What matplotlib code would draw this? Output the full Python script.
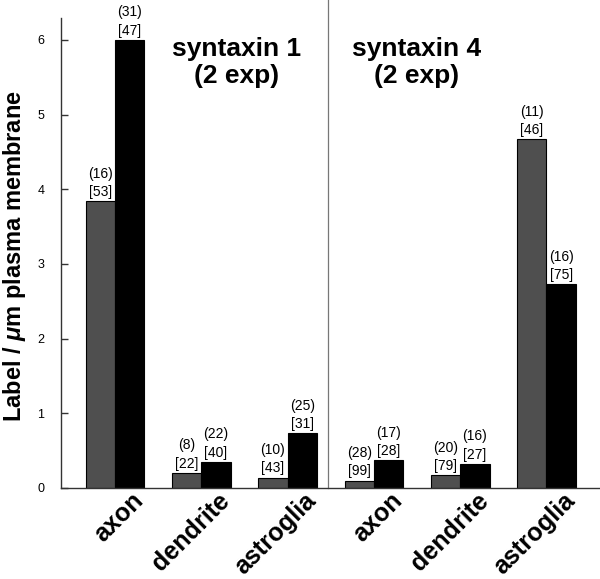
import matplotlib
matplotlib.use("Agg")
import matplotlib.pyplot as plt
import matplotlib.transforms as mtransforms
import numpy as np

plt.rcParams['font.family'] = ['Liberation Sans', 'DejaVu Sans']
plt.rcParams['mathtext.fontset'] = 'custom'
plt.rcParams['mathtext.rm'] = 'Liberation Sans'
plt.rcParams['mathtext.it'] = 'Liberation Sans:italic'
plt.rcParams['mathtext.bf'] = 'Liberation Sans:bold'
plt.rcParams['mathtext.bfit'] = 'Liberation Sans:bold:italic'

# ---- data ----
categories = ["axon", "dendrite", "astroglia", "axon", "dendrite", "astroglia"]
gray_values = [3.84, 0.205, 0.14, 0.10, 0.17, 4.67]
black_values = [6.0, 0.35, 0.73, 0.37, 0.325, 2.73]
gray_counts = [16, 8, 10, 28, 20, 11]
gray_n = [53, 22, 43, 99, 79, 46]
black_counts = [31, 22, 25, 17, 16, 16]
black_n = [47, 40, 31, 28, 27, 75]
panel_titles = ["syntaxin 1\n(2 exp)", "syntaxin 4\n(2 exp)"]
yticks = [0, 1, 2, 3, 4, 5, 6]

W, H = 600, 579
fig = plt.figure(figsize=(W / 100, H / 100), dpi=100)
ax = fig.add_axes([61 / W, 1 - 488 / H, 539 / W, 470 / H])

x = np.arange(len(categories))
bw = 0.34
gray_col = "#4f4f4f"
ax.bar(x - bw / 2, gray_values, bw, color=gray_col, edgecolor="black", linewidth=0.8)
ax.bar(x + bw / 2, black_values, bw, color="black", edgecolor="black", linewidth=0.8)

for xi, v, c, n in zip(x - bw / 2, gray_values, gray_counts, gray_n):
    ax.annotate(f"({c})\n[{n}]", (xi, v), xytext=(0, 1.5), textcoords="offset points",
                ha="center", va="bottom", fontsize=10, linespacing=1.4)
for xi, v, c, n in zip(x + bw / 2, black_values, black_counts, black_n):
    ax.annotate(f"({c})\n[{n}]", (xi, v), xytext=(0, 1.5), textcoords="offset points",
                ha="center", va="bottom", fontsize=10, linespacing=1.4)

ax.set_xlim(-0.626, 5.62)
ax.set_ylim(0, 6.294)

for s in ["top", "right"]:
    ax.spines[s].set_visible(False)
for s in ["left", "bottom"]:
    ax.spines[s].set_color("#333333")
    ax.spines[s].set_linewidth(1.0)

ax.set_yticks(yticks)
ax.set_yticklabels([str(t) for t in yticks], fontsize=9)
ax.tick_params(axis="y", direction="in", length=5, width=1.0, color="#333333", pad=12)

ax.set_xticks(x)
ax.set_xticklabels(categories, fontsize=18, fontweight="bold", rotation=45,
                   ha="right", va="center", rotation_mode="anchor")
ax.tick_params(axis="x", length=0, pad=0)
offset = mtransforms.ScaledTranslation(25 / 100, -9 / 100, fig.dpi_scale_trans)
for lbl in ax.get_xticklabels():
    lbl.set_transform(lbl.get_transform() + offset)

ax.set_ylabel("Label / $\\mathbfit{\\mu}$m plasma membrane", fontsize=17, fontweight="bold")
ax.yaxis.set_label_coords(-0.062, 0.494)

# divider between panels
ax.axvline(2.47, ymin=0, ymax=488 / 470, color="#777777", linewidth=0.9, clip_on=False)

ax.text(1.404, 6.04, panel_titles[0], ha="center", va="top", fontsize=19,
        fontweight="bold", linespacing=1.15)
ax.text(3.49, 6.04, panel_titles[1], ha="center", va="top", fontsize=19,
        fontweight="bold", linespacing=1.15)

fig.savefig("out.png", dpi=100)
